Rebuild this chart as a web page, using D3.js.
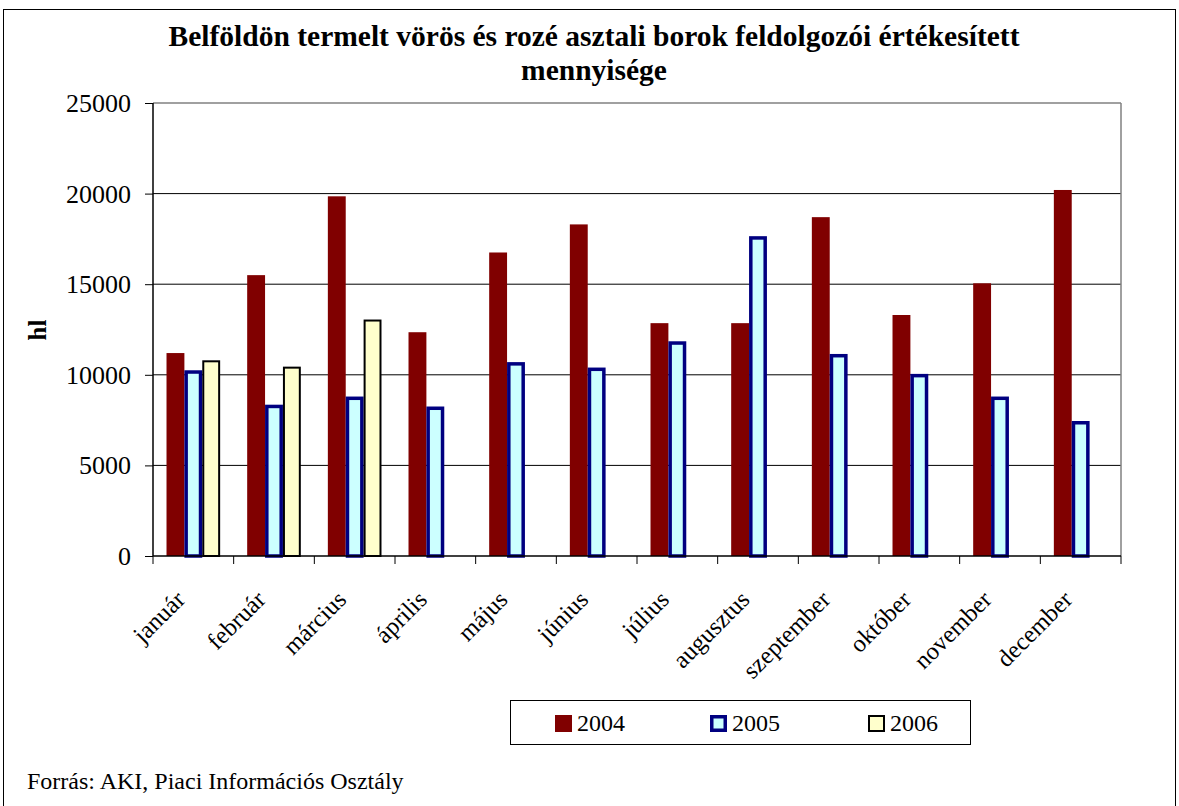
<!DOCTYPE html>
<html><head><meta charset="utf-8">
<script src="https://cdn.jsdelivr.net/npm/d3@7"></script>
<style>body{margin:0;background:#fff}svg{display:block}text{font-family:"Liberation Serif","Times New Roman",serif}</style>
</head><body>
<script>
const months = ["január","február","március","április","május","június","július","augusztus","szeptember","október","november","december"];
const series = ["2004","2005","2006"];
const v2004 = [11200,15500,19850,12350,16750,18300,12850,12850,18700,13300,15050,20200];
const v2005 = [10250,8350,8800,8250,10700,10400,11850,17650,11150,10050,8800,7450];
const v2006 = [10800,10450,13050,null,null,null,null,null,null,null,null,null];
const yTicks = [0,5000,10000,15000,20000,25000];
const title1 = "Belföldön termelt vörös és rozé asztali borok feldolgozói értékesített";
const title2 = "mennyisége";
const yLabel = "hl";
const source = "Forrás: AKI, Piaci Információs Osztály";

const W=1179,H=806;
const svg=d3.select("body").append("svg").attr("width",W).attr("height",H);
svg.append("rect").attr("x",3.5).attr("y",9.5).attr("width",1172).attr("height",H+10).attr("fill","#fff").attr("stroke","#000").attr("stroke-width",1);

const L=153,R=1121,T=103,B=556;
const x=d3.scaleBand().domain(months).range([L,R]).paddingInner(0.335).paddingOuter(0.1675);
const xs=d3.scaleBand().domain(series).range([0,x.bandwidth()]);
const y=d3.scaleLinear().domain([0,25000]).range([B,T]);

// gridlines
svg.append("g").selectAll("line").data(yTicks.slice(1)).join("line")
 .attr("x1",L).attr("x2",R).attr("y1",d=>y(d)).attr("y2",d=>y(d))
 .attr("stroke",d=>d===25000?"#808080":"#000").attr("stroke-width",d=>d===25000?1.5:1);
svg.append("line").attr("x1",R).attr("x2",R).attr("y1",T).attr("y2",B).attr("stroke","#808080").attr("stroke-width",1.5);

const data=[v2004,v2005,v2006];
const fills=["#800000","#CCFFFF","#FFFFCC"];
const strokes=["none","#000080","#000"];
const sw=[0,3.5,2];
series.forEach((s,i)=>{
  const g=svg.append("g");
  g.selectAll("rect").data(months.map((m,j)=>({m,v:data[i][j]})).filter(d=>d.v!=null)).join("rect")
   .attr("x",d=>x(d.m)+xs(s)+sw[i]/2).attr("width",xs.bandwidth()-sw[i])
   .attr("y",d=>y(d.v)+sw[i]/2).attr("height",d=>B-y(d.v)-sw[i]/2)
   .attr("fill",fills[i]).attr("stroke",strokes[i]).attr("stroke-width",sw[i]);
});

// y axis
const ya=svg.append("g").attr("transform",`translate(${L},0)`).call(d3.axisLeft(y).tickValues(yTicks).tickSize(8).tickFormat(d3.format("d")));
ya.select(".domain").attr("stroke","#000").attr("stroke-width",1.5).attr("d",`M0,${T}V${B}`);
ya.selectAll(".tick line").attr("stroke","#000");
ya.selectAll("text").attr("font-size",26).attr("font-family","Liberation Serif").attr("fill","#000").attr("x",-22).attr("dy","0.33em");

// x axis
const xa=svg.append("g").attr("transform",`translate(0,${B})`);
xa.append("line").attr("x1",L).attr("x2",R).attr("y1",0).attr("y2",0).attr("stroke","#000").attr("stroke-width",1.5);
const step=(R-L)/12;
xa.selectAll("line.t").data(d3.range(13)).join("line").attr("class","t")
 .attr("x1",d=>L+d*step).attr("x2",d=>L+d*step).attr("y1",0).attr("y2",8).attr("stroke","#000");
xa.selectAll("text").data(months).join("text")
 .attr("transform",d=>`translate(${x(d)+x.bandwidth()/2-13},${39}) rotate(-45)`)
 .attr("text-anchor","end").attr("dy","0.35em").attr("font-size",24.5).attr("fill","#000").text(d=>d);

// title
svg.append("text").attr("x",594).attr("y",46).attr("text-anchor","middle").attr("font-size",29.5).attr("font-weight","bold").text(title1);
svg.append("text").attr("x",594).attr("y",80).attr("text-anchor","middle").attr("font-size",29.5).attr("font-weight","bold").text(title2);
svg.append("text").attr("transform","translate(46,330) rotate(-90)").attr("text-anchor","middle").attr("font-size",25).attr("font-weight","bold").text(yLabel);

// legend
const lg=svg.append("g");
lg.append("rect").attr("x",510.5).attr("y",700.5).attr("width",460).attr("height",44).attr("fill","#fff").attr("stroke","#000");
const lx=[555,710,868];
series.forEach((s,i)=>{
  lg.append("rect").attr("x",lx[i]+(sw[i]/2)).attr("y",715+(sw[i]/2)).attr("width",17-sw[i]).attr("height",17-sw[i])
   .attr("fill",fills[i]).attr("stroke",strokes[i]).attr("stroke-width",sw[i]);
  lg.append("text").attr("x",lx[i]+22).attr("y",731).attr("font-size",24).text(s);
});
svg.append("text").attr("x",27).attr("y",789).attr("font-size",24).text(source);
</script>
</body></html>
